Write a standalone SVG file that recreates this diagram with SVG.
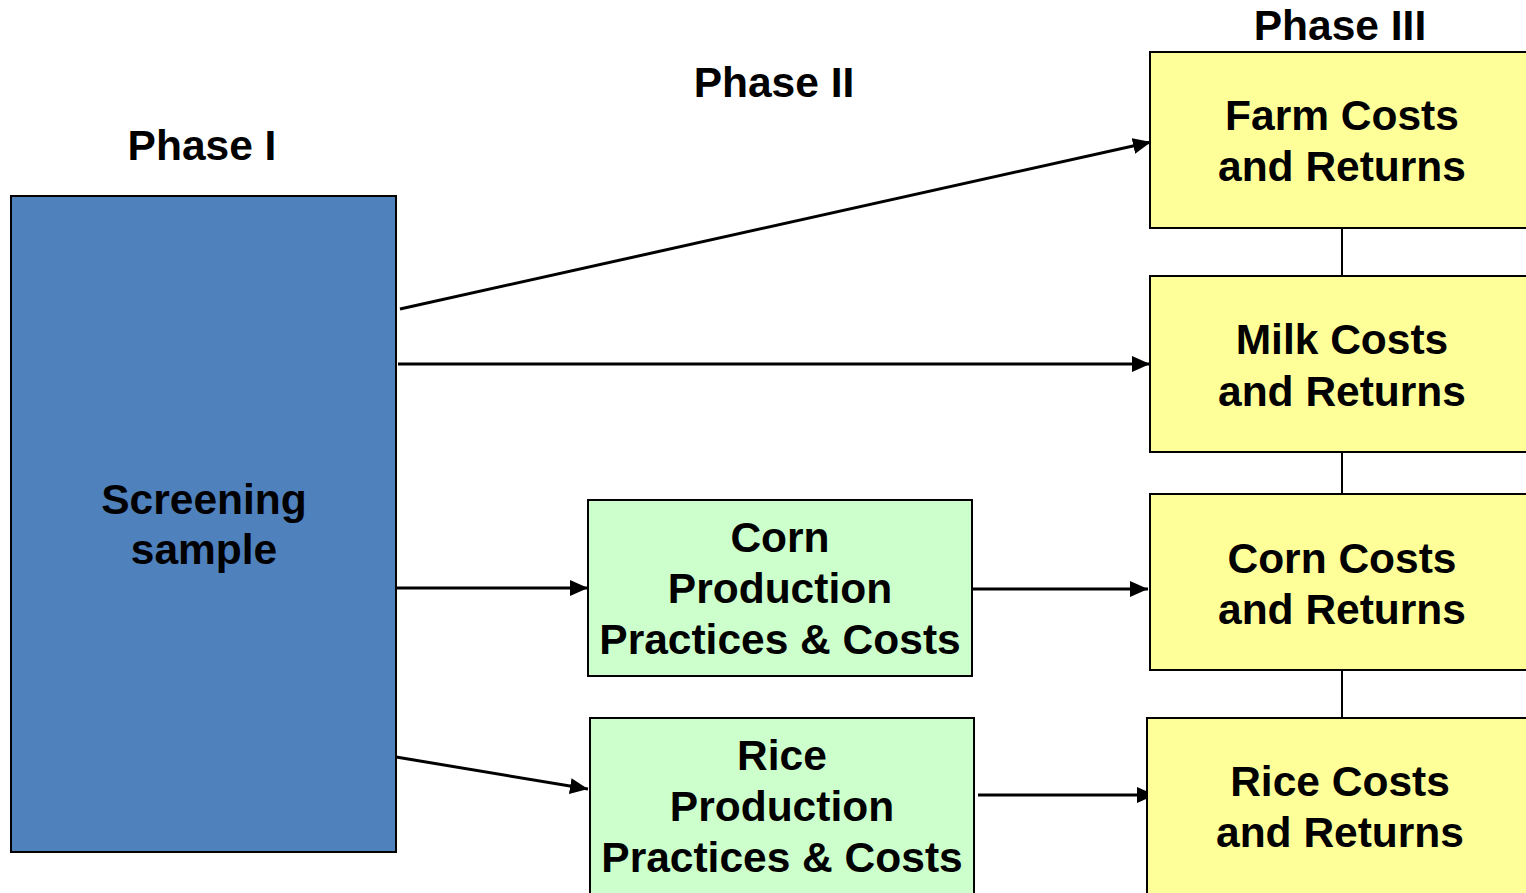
<svg xmlns="http://www.w3.org/2000/svg" width="1526" height="893" viewBox="0 0 1526 893">
<style>
text{font-family:"Liberation Sans",Arial,sans-serif;font-weight:bold;font-size:42.5px;text-anchor:middle;fill:#000}
.blue{fill:#4f81bd;stroke:#000;stroke-width:2}
.yel{fill:#ffff99;stroke:#000;stroke-width:2}
.grn{fill:#ccffcc;stroke:#000;stroke-width:2}
.c{stroke:#000;stroke-width:3;fill:none}
.t{stroke:#000;stroke-width:2;fill:none}
</style>
<defs>
<marker id="ah" markerUnits="userSpaceOnUse" markerWidth="20" markerHeight="18" refX="18" refY="9" orient="auto">
<path d="M0,1 L18,9 L0,17 Z" fill="#000"/>
</marker>
</defs>
<text x="202" y="160">Phase I</text>
<text x="774" y="97">Phase II</text>
<text x="1340" y="40">Phase III</text>
<g id="connectors">
<line class="t" x1="1342" y1="228" x2="1342" y2="276"/>
<line class="t" x1="1342" y1="452" x2="1342" y2="494"/>
<line class="t" x1="1342" y1="670" x2="1342" y2="718"/>
<line class="c" x1="400" y1="309" x2="1151" y2="142" marker-end="url(#ah)"/>
<line class="c" x1="398" y1="364" x2="1150" y2="364" marker-end="url(#ah)"/>
<line class="c" x1="396" y1="588" x2="588" y2="588" marker-end="url(#ah)"/>
<line class="c" x1="972" y1="589" x2="1148" y2="589" marker-end="url(#ah)"/>
<line class="c" x1="396" y1="757" x2="588" y2="789" marker-end="url(#ah)"/>
<line class="c" x1="978" y1="795" x2="1155" y2="795" marker-end="url(#ah)"/>
</g>
<g id="screening">
<rect class="blue" x="11" y="196" width="385" height="656"/>
<text x="204" y="514">Screening</text>
<text x="204" y="564">sample</text>
</g>
<g id="farm">
<rect class="yel" x="1150" y="52" width="390" height="176"/>
<text x="1342" y="130">Farm Costs</text>
<text x="1342" y="181">and Returns</text>
</g>
<g id="milk">
<rect class="yel" x="1150" y="276" width="390" height="176"/>
<text x="1342" y="354">Milk Costs</text>
<text x="1342" y="406">and Returns</text>
</g>
<g id="corncosts">
<rect class="yel" x="1150" y="494" width="390" height="176"/>
<text x="1342" y="573">Corn Costs</text>
<text x="1342" y="624">and Returns</text>
</g>
<g id="ricecosts">
<rect class="yel" x="1147" y="718" width="390" height="190"/>
<text x="1340" y="796">Rice Costs</text>
<text x="1340" y="847">and Returns</text>
</g>
<g id="cornprod">
<rect class="grn" x="588" y="500" width="384" height="176"/>
<text x="780" y="552">Corn</text>
<text x="780" y="603">Production</text>
<text x="780" y="654">Practices &amp; Costs</text>
</g>
<g id="riceprod">
<rect class="grn" x="590" y="718" width="384" height="190"/>
<text x="782" y="770">Rice</text>
<text x="782" y="821">Production</text>
<text x="782" y="872">Practices &amp; Costs</text>
</g>
</svg>
